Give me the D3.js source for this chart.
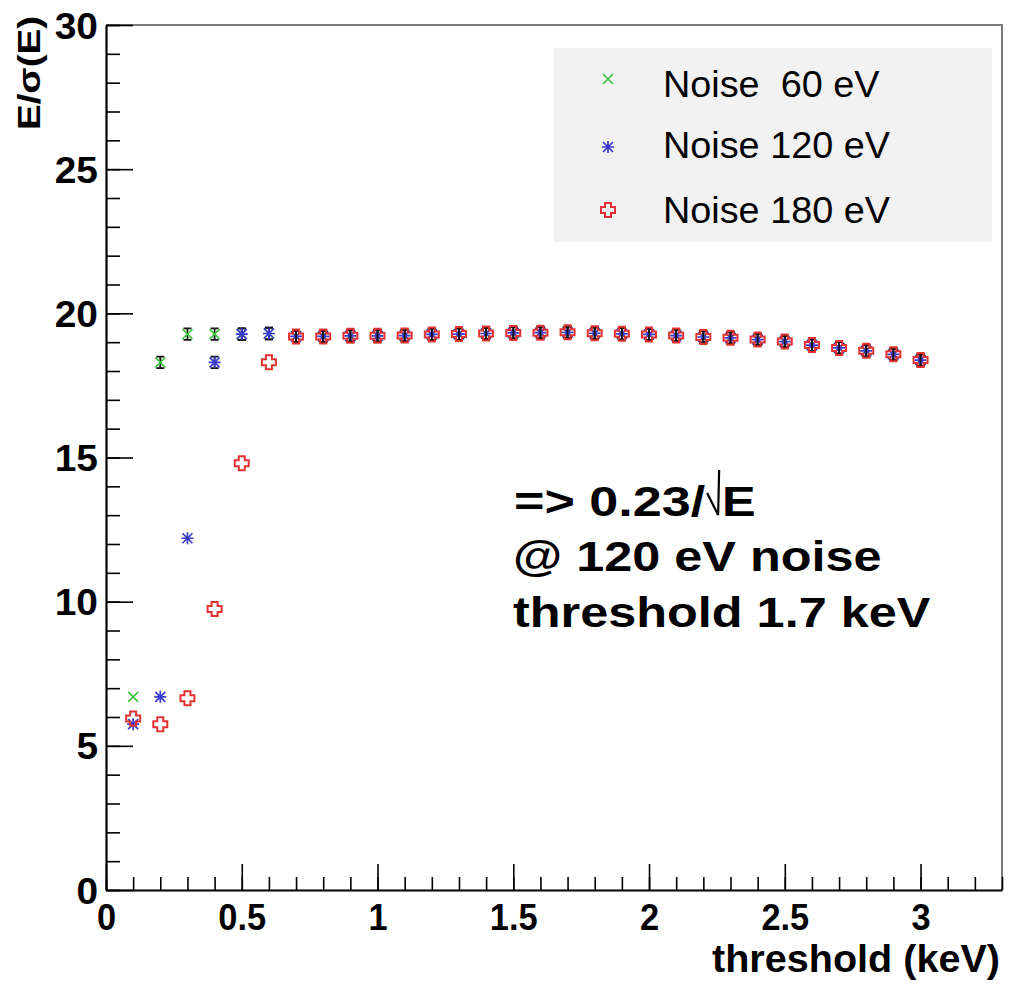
<!DOCTYPE html>
<html><head><meta charset="utf-8">
<script src="https://cdn.jsdelivr.net/npm/d3@7"></script>
<style>
body{margin:0;background:#fff}
text{font-family:"Liberation Sans",Arial,Helvetica,sans-serif}
</style>
</head><body>
<svg id="c" width="1012" height="985"></svg>
<script>
// ---- data ----
const thresholds = [0.1,0.2,0.3,0.4,0.5,0.6,0.7,0.8,0.9,1.0,1.1,1.2,1.3,1.4,1.5,1.6,1.7,1.8,1.9,2.0,2.1,2.2,2.3,2.4,2.5,2.6,2.7,2.8,2.9,3.0];
const noise60  = [6.7,18.3,19.28,19.28,19.28,19.3,19.2,19.2,19.22,19.22,19.23,19.27,19.28,19.3,19.32,19.33,19.34,19.31,19.29,19.27,19.23,19.18,19.15,19.09,19.02,18.9,18.8,18.7,18.58,18.38];
const noise120 = [5.75,6.7,12.2,18.3,19.28,19.3,19.2,19.2,19.22,19.22,19.23,19.27,19.28,19.3,19.32,19.33,19.34,19.31,19.29,19.27,19.23,19.18,19.15,19.09,19.02,18.9,18.8,18.7,18.58,18.38];
const noise180 = [5.95,5.75,6.65,9.75,14.8,18.3,19.2,19.2,19.22,19.22,19.23,19.27,19.28,19.3,19.32,19.33,19.34,19.31,19.29,19.27,19.23,19.18,19.15,19.09,19.02,18.9,18.8,18.7,18.58,18.38];
const err60  = [0,0.2,0.2,0.2,0.2,0.2,0.2,0.2,0.2,0.2,0.2,0.2,0.2,0.2,0.2,0.2,0.2,0.2,0.2,0.2,0.2,0.2,0.2,0.2,0.2,0.2,0.2,0.2,0.2,0.2];
const err120 = [0,0,0,0.2,0.2,0.2,0.2,0.2,0.2,0.2,0.2,0.2,0.2,0.2,0.2,0.2,0.2,0.2,0.2,0.2,0.2,0.2,0.2,0.2,0.2,0.2,0.2,0.2,0.2,0.2];
const err180 = [0,0,0,0,0,0,0.2,0.2,0.2,0.2,0.2,0.2,0.2,0.2,0.2,0.2,0.2,0.2,0.2,0.2,0.2,0.2,0.2,0.2,0.2,0.2,0.2,0.2,0.2,0.2];
const seriesNames = ["Noise  60 eV","Noise 120 eV","Noise 180 eV"];
const xTicks = [0,0.5,1,1.5,2,2.5,3];
const yTicks = [0,5,10,15,20,25,30];
const xTitle = "threshold (keV)";
const yTitle = "E/\u03c3(E)";
const noteLine1 = "=> 0.23/";
const noteLine1b = "E";
const noteLines = ["@ 120 eV noise","threshold 1.7 keV"];

// ---- setup ----
const svg = d3.select("#c");
const x = d3.scaleLinear().domain([0,3.3]).range([106,1002]);
const y = d3.scaleLinear().domain([0,30]).range([890,25]);

function stretch(sel,k){
  sel.each(function(){
    const w = this.getComputedTextLength();
    this.setAttribute("textLength", w*k);
    this.setAttribute("lengthAdjust","spacingAndGlyphs");
  });
}

// frame (top/right)
svg.append("path").attr("d",`M${x(0)},${y(30)}H${x(3.3)}V${y(0)}`)
  .attr("fill","none").attr("stroke","#7a7a7a").attr("stroke-width",2);

// x axis
const gxMinor = svg.append("g").attr("transform",`translate(0,${y(0)})`)
  .call(d3.axisBottom(x).tickValues(x.ticks(33)).tickSizeInner(-13).tickSizeOuter(0).tickFormat(""));
gxMinor.select(".domain").remove();
gxMinor.selectAll("line").attr("stroke","#000").attr("stroke-width",1.6);
const gx = svg.append("g").attr("transform",`translate(0,${y(0)})`)
  .call(d3.axisBottom(x).tickValues(xTicks).tickSizeInner(-26).tickSizeOuter(0).tickFormat(d3.format("~g")));
gx.select(".domain").attr("stroke","#000").attr("stroke-width",2.2);
gx.selectAll("line").attr("stroke","#000").attr("stroke-width",1.6);
gx.selectAll("text").attr("y",40).attr("dy",0).attr("fill","#000")
  .style("font-size","37px").style("font-weight","bold").call(stretch,0.93);

// y axis
const gyMinor = svg.append("g").attr("transform",`translate(${x(0)},0)`)
  .call(d3.axisLeft(y).tickValues(y.ticks(30)).tickSizeInner(-14).tickSizeOuter(0).tickFormat(""));
gyMinor.select(".domain").remove();
gyMinor.selectAll("line").attr("stroke","#000").attr("stroke-width",1.6);
const gy = svg.append("g").attr("transform",`translate(${x(0)},0)`)
  .call(d3.axisLeft(y).tickValues(yTicks).tickSizeInner(-27).tickSizeOuter(0).tickPadding(8));
gy.select(".domain").attr("stroke","#000").attr("stroke-width",2.2);
gy.selectAll("line").attr("stroke","#000").attr("stroke-width",1.6);
gy.selectAll("text").attr("dy",13).attr("fill","#000")
  .style("font-size","36px").style("font-weight","bold").call(stretch,1.08);

// axis titles
svg.append("text").attr("x",1000).attr("y",972).attr("text-anchor","end")
  .style("font-size","38px").style("font-weight","bold").text(xTitle)
  .attr("textLength",288).attr("lengthAdjust","spacingAndGlyphs");
svg.append("text").attr("transform","translate(40,16) rotate(-90)").attr("text-anchor","end")
  .style("font-size","31px").style("font-weight","bold").text(yTitle)
  .attr("textLength",114).attr("lengthAdjust","spacingAndGlyphs");

// legend box
svg.append("rect").attr("x",554).attr("y",48).attr("width",438).attr("height",194).attr("fill","#f2f2f2");

// marker makers
const colors = ["#3cc43c","#3b3bcc","#e23232"];
function drawMarker(g,type,cx,cy){
  if(type===0){
    g.append("path").attr("d",`M${cx-5},${cy-5}L${cx+5},${cy+5}M${cx-5},${cy+5}L${cx+5},${cy-5}`)
      .attr("stroke",colors[0]).attr("stroke-width",1.6).attr("fill","none");
  } else if(type===1){
    g.append("path").attr("d",`M${cx-5},${cy-5}L${cx+5},${cy+5}M${cx-5},${cy+5}L${cx+5},${cy-5}M${cx-6},${cy}H${cx+6}M${cx},${cy-6}V${cy+6}`)
      .attr("stroke",colors[1]).attr("stroke-width",1.7).attr("fill","none");
  } else {
    const a=3,L=7;
    g.append("path").attr("d",`M${cx-a},${cy-L}H${cx+a}V${cy-a}H${cx+L}V${cy+a}H${cx+a}V${cy+L}H${cx-a}V${cy+a}H${cx-L}V${cy-a}H${cx-a}Z`)
      .attr("stroke",colors[2]).attr("stroke-width",2).attr("fill","none");
  }
}

// series
const series = [[noise60,err60],[noise120,err120],[noise180,err180]];
series.forEach(([vals,errs],si)=>{
  const g = svg.append("g");
  thresholds.forEach((t,i)=>{
    const cx = x(t), v = vals[i], e = errs[i];
    if(e>0){
      const y1 = y(v+e), y2 = y(v-e);
      g.append("path").attr("d",`M${cx},${y1}V${y2}M${cx-4},${y1}H${cx+4}M${cx-4},${y2}H${cx+4}`)
        .attr("stroke","#111").attr("stroke-width",1.8).attr("fill","none");
    }
    drawMarker(g,si,cx,y(v));
  });
});

// legend entries
const legY = [79,147,210];
const legBase = [97,158,223];
seriesNames.forEach((n,i)=>{
  drawMarker(svg,i,608,legY[i]);
  svg.append("text").attr("x",663).attr("y",legBase[i]).attr("xml:space","preserve")
    .style("white-space","pre").style("font-size","36px").text(n).call(stretch,1.05);
});

// annotation
const t1 = svg.append("text").attr("x",514).attr("y",516)
  .style("font-size","42px").style("font-weight","bold").text(noteLine1);
stretch(t1,1.24);
const end1 = 514 + parseFloat(t1.attr("textLength"));
svg.append("path").attr("d",`M${end1+2},${493}L${end1+13},${515}L${end1+14},${470}`)
  .attr("stroke","#000").attr("stroke-width",2.2).attr("fill","none");
svg.append("text").attr("x",end1+17).attr("y",516)
  .style("font-size","42px").style("font-weight","bold").text(noteLine1b).call(stretch,1.2);
noteLines.forEach((s,i)=>{
  svg.append("text").attr("x",513).attr("y",[571,627][i])
    .style("font-size","42px").style("font-weight","bold").text(s).call(stretch,1.2);
});
</script>
</body></html>
